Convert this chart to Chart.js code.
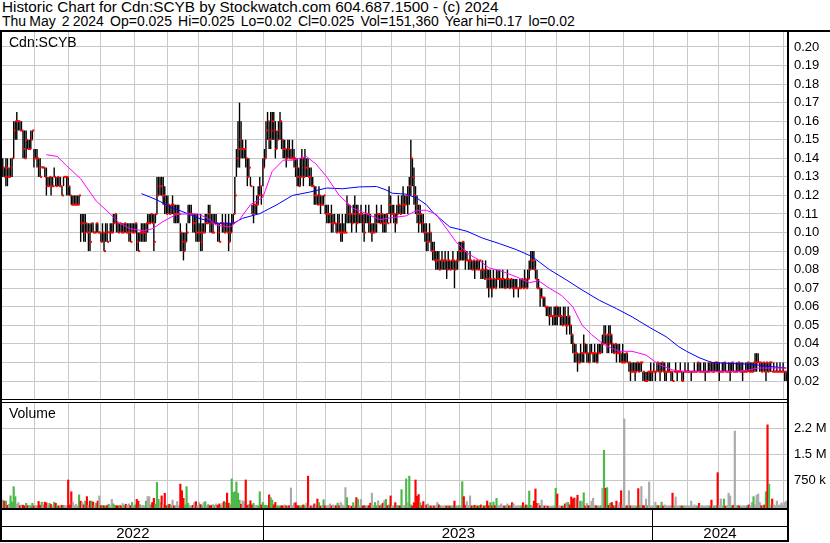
<!DOCTYPE html>
<html>
<head>
<meta charset="utf-8">
<title>Cdn:SCYB</title>
<script src="https://cdn.jsdelivr.net/npm/chart.js@4.4.1/dist/chart.umd.min.js"></script>
<style>
  body { margin: 0; background: #fff; }
  #wrap { position: relative; width: 830px; height: 543px; overflow: hidden; font-family: Arial, "Liberation Sans", sans-serif; color: #000; }
  .abs { position: absolute; }
  .ln { position: absolute; background: #000; z-index: 2; }
  .head { left: 2px; white-space: pre; line-height: 14px; }
  #h1 { top: 0; font-size: 15.3px; }
  #h2 { top: 14px; font-size: 14px; word-spacing: -0.8px; }
  .tag { font-size: 14px; z-index: 2; }
</style>
</head>
<body>
<div id="wrap">
  <div id="h1" class="abs head">Historic Chart for Cdn:SCYB by Stockwatch.com 604.687.1500 - (c) 2024</div>
  <div id="h2" class="abs head">Thu May  2 2024  Op=0.025  Hi=0.025  Lo=0.02  Cl=0.025  Vol=151,360  Year hi=0.17  lo=0.02</div>
  <canvas id="price" class="abs" width="830" height="367" style="left:0;top:32px"></canvas>
  <canvas id="volume" class="abs" width="830" height="140" style="left:0;top:403px"></canvas>
  <div class="abs tag" style="left:9px;top:34px">Cdn:SCYB</div>
  <div class="abs tag" style="left:9px;top:405px">Volume</div>
  <div class="ln" style="left:0;top:30px;width:830px;height:2px"></div>
  <div class="ln" style="left:0;top:30px;width:2px;height:512px"></div>
  <div class="ln" style="left:787px;top:30px;width:2px;height:512px"></div>
  <div class="ln" style="left:0;top:399px;width:789px;height:1px"></div>
  <div class="ln" style="left:0;top:402px;width:789px;height:1px"></div>
  <div class="ln" style="left:0;top:508px;width:789px;height:2px"></div>
  <div class="ln" style="left:0;top:526px;width:789px;height:1px"></div>
  <div class="ln" style="left:0;top:540px;width:789px;height:2px"></div>
</div>
<script>
// daily bars, prices in thousandths of a dollar (mils), May 2 2022 .. May 2 2024
const highs = [
  140,135,140,140,135,140,140,160,160,165,160,160,160,155,155,155,150,150,155,155,145,145,145,140,
  140,135,135,135,135,130,130,130,130,135,130,130,130,130,125,130,130,130,130,125,120,120,120,120,
  120,120,110,110,110,110,105,105,105,105,105,100,105,105,100,100,105,100,105,105,100,105,105,110,
  110,110,105,105,105,105,105,105,105,105,105,105,105,105,105,100,100,105,105,105,105,110,110,110,
  110,110,110,130,130,130,130,130,125,120,120,115,115,120,115,115,115,115,105,100,100,100,105,115,
  115,115,110,110,110,110,105,110,105,105,110,110,115,115,110,110,110,110,105,105,105,110,105,110,
  105,110,105,110,110,130,145,160,170,160,150,145,150,140,140,130,115,125,115,120,125,130,125,140,
  145,160,165,160,165,165,165,160,155,160,165,160,150,150,145,150,150,145,150,145,140,140,135,140,
  145,140,145,140,140,135,135,130,125,125,120,125,120,120,120,115,115,115,110,115,110,110,105,110,
  110,105,110,105,110,120,115,115,110,115,120,115,115,110,115,110,110,115,110,115,110,105,105,110,
  115,110,110,115,110,110,110,110,125,120,115,115,110,115,120,115,120,125,120,120,125,130,150,140,
  135,125,120,115,115,110,110,105,105,100,105,100,95,95,90,90,90,85,90,85,90,85,90,85,
  85,90,85,85,90,95,95,95,95,90,90,85,90,85,85,85,85,85,85,80,85,80,85,80,
  80,80,75,80,75,80,80,80,75,80,75,75,80,75,75,75,75,75,75,70,75,75,75,80,
  75,80,85,90,90,90,85,80,75,70,70,65,65,60,60,60,60,55,60,60,60,60,60,55,
  60,60,55,60,55,50,45,40,40,35,35,40,35,45,40,40,35,40,40,35,40,35,40,40,
  40,45,50,50,45,50,50,45,40,40,40,40,40,35,40,35,35,35,30,30,30,30,30,30,
  30,30,30,25,25,25,25,25,30,25,30,25,30,30,30,30,30,30,25,30,30,25,25,25,
  30,25,25,30,25,25,30,25,30,25,25,25,30,25,30,30,30,25,30,30,25,30,30,30,
  30,30,30,30,30,25,30,30,30,25,30,30,30,30,25,30,30,30,30,30,25,30,30,30,
  30,30,30,35,35,35,30,30,30,30,30,30,30,30,25,30,25,30,25,30,25,30,25,25
];
const lows = [
  130,130,125,125,130,130,130,140,150,150,155,155,155,140,140,140,145,145,145,150,135,140,135,130,
  130,135,135,130,120,125,125,120,125,130,125,125,125,125,120,125,130,120,120,120,115,115,115,115,
  115,115,95,100,95,95,100,90,90,100,100,100,100,100,100,95,95,90,95,95,100,95,100,100,
  105,100,100,100,100,100,100,100,100,95,95,100,100,100,90,90,95,95,95,95,95,100,105,105,
  105,90,105,110,120,120,120,115,110,110,110,110,110,110,105,105,105,105,90,90,85,90,95,105,
  105,110,100,100,95,95,95,90,90,100,100,105,105,100,100,100,105,105,95,95,105,100,100,100,
  100,90,95,100,105,110,130,135,135,140,140,140,135,125,130,125,110,105,110,110,115,120,115,125,
  135,140,150,145,145,150,150,140,145,150,150,145,140,140,135,140,140,140,140,135,130,125,125,125,
  130,125,130,130,130,125,125,125,115,115,115,115,110,115,115,110,105,105,105,100,100,105,100,100,
  100,95,95,100,100,105,105,105,100,105,105,100,105,105,105,100,95,105,105,100,100,95,100,100,
  100,105,105,105,100,100,100,105,110,105,110,105,100,105,110,110,110,110,110,115,110,115,120,125,
  115,110,105,100,105,100,100,95,90,90,95,90,85,85,80,80,80,80,80,80,80,75,80,80,
  80,80,70,80,80,85,85,85,85,80,85,80,80,80,80,75,80,80,80,75,75,75,75,70,
  65,70,65,70,70,70,75,70,70,70,70,70,70,70,70,70,65,70,70,65,70,70,70,70,
  70,70,75,80,80,80,75,70,70,60,65,60,60,55,55,50,55,50,50,50,50,55,50,50,
  50,50,45,50,45,40,35,30,30,25,30,30,30,30,35,30,30,30,35,30,30,30,30,35,
  35,35,40,40,35,35,40,35,35,35,30,35,30,30,30,30,30,30,25,20,25,25,20,25,
  25,25,25,20,20,20,20,20,20,20,25,20,25,25,20,25,25,20,20,25,25,20,20,25,
  25,20,25,25,20,20,25,25,25,25,20,25,25,25,25,25,25,25,25,20,25,25,25,25,
  25,25,25,25,20,25,25,25,25,25,25,20,25,25,25,25,25,25,25,20,25,25,25,25,
  25,25,25,25,25,30,25,25,25,25,20,25,25,25,25,25,25,25,25,25,25,25,20,20
];
const closes = [
  135,130,135,130,130,135,140,155,160,160,160,155,155,145,140,150,145,145,150,155,140,140,140,135,
  130,135,135,130,125,125,130,125,125,130,125,130,125,125,120,130,130,130,125,120,115,115,115,115,
  115,120,105,105,100,105,100,100,95,105,100,100,105,100,100,95,100,90,100,95,100,100,100,105,
  110,105,100,105,100,100,105,100,100,100,95,100,100,105,95,90,100,100,100,100,105,105,105,110,
  105,95,110,120,125,125,120,120,115,110,115,110,115,115,110,110,110,110,100,95,90,95,100,110,
  110,110,105,105,100,100,100,95,100,100,105,105,110,105,100,100,105,105,100,95,105,105,100,105,
  100,95,100,105,110,120,140,145,150,145,145,145,140,130,135,125,110,115,115,115,120,125,120,135,
  140,155,160,150,155,160,155,145,150,155,160,150,145,145,140,145,140,140,140,140,135,130,125,130,
  140,130,135,135,130,130,125,125,120,120,115,120,115,115,120,110,110,110,110,105,105,105,100,105,
  100,100,100,100,100,115,110,110,105,110,110,105,110,110,110,105,100,110,110,105,100,100,100,105,
  110,110,105,110,105,105,110,105,115,110,110,110,105,110,115,110,115,115,115,120,120,125,140,130,
  120,115,110,105,110,105,100,100,95,95,100,90,90,85,85,85,80,85,85,85,85,80,85,80,
  85,85,80,85,85,90,90,95,90,85,85,85,85,80,85,80,85,80,85,80,80,75,80,75,
  70,75,70,75,70,75,75,75,75,75,70,75,75,70,75,70,70,70,70,70,70,75,70,75,
  70,75,80,85,85,80,75,70,70,65,65,65,60,60,55,55,55,55,55,60,55,55,55,50,
  55,50,50,55,50,45,40,35,35,30,30,35,35,40,35,35,30,35,35,35,35,30,35,35,
  40,40,45,40,45,40,45,40,35,40,35,35,35,30,30,30,35,30,30,25,25,25,25,30,
  25,30,30,25,20,20,25,25,25,25,25,25,30,25,25,30,25,25,25,25,25,25,20,25,
  25,25,25,25,20,25,25,25,25,25,25,25,25,25,30,25,25,25,25,25,25,25,30,25,
  25,30,30,25,25,25,25,30,25,25,25,25,30,25,25,25,30,25,25,25,25,25,30,25,
  25,25,30,30,30,30,30,25,30,25,30,25,30,30,25,25,25,25,25,25,25,25,25,25
];
// daily volume, thousands of shares
const volumes = [
  183,150,150,30,60,300,120,567,280,60,106,20,40,30,15,85,20,30,10,85,10,25,15,140,
  30,120,40,120,100,20,85,50,15,120,85,20,10,25,30,30,15,20,759,40,420,120,20,60,
  15,330,150,120,40,150,280,30,150,150,120,20,90,150,300,20,30,15,10,25,60,15,200,70,
  20,20,10,30,15,80,20,60,30,70,20,110,15,40,200,150,50,20,30,15,150,280,280,40,
  110,230,60,690,200,110,300,40,375,20,40,60,20,180,15,30,135,20,640,450,230,40,567,90,
  20,10,30,110,135,20,110,50,20,110,135,20,50,15,30,50,20,70,30,70,15,90,135,110,
  380,90,40,790,400,420,700,380,180,60,160,135,760,30,50,160,40,85,20,30,15,420,40,110,
  30,30,20,330,250,180,40,110,20,10,10,20,10,40,15,10,20,530,30,90,105,20,15,10,
  20,40,15,90,870,20,10,15,70,30,210,105,10,20,190,15,10,20,70,15,40,15,20,90,
  15,110,40,15,540,250,20,10,5,105,10,250,200,20,200,10,20,10,15,20,90,380,20,110,
  20,160,15,40,90,160,200,20,40,300,10,20,105,20,20,15,480,10,30,790,105,870,40,10,
  105,760,290,340,105,20,135,15,40,70,15,10,20,10,15,110,40,15,10,10,20,10,15,10,
  10,20,150,15,10,20,10,710,280,30,135,20,300,15,10,30,15,10,20,40,15,10,20,150,
  20,105,15,120,20,230,15,30,70,15,10,20,70,15,20,105,70,10,15,20,10,15,105,20,
  40,20,440,30,10,150,500,85,85,20,180,15,10,20,5,5,5,10,15,520,355,20,10,5,
  15,70,110,110,40,270,210,240,210,320,150,150,130,390,10,85,20,10,150,230,30,15,10,10,
  20,520,1620,520,540,30,85,110,20,10,150,30,110,450,40,2520,10,20,450,15,10,20,10,10,
  510,30,570,20,15,210,20,700,15,10,20,120,20,20,15,120,10,40,15,10,20,15,380,15,
  270,10,15,20,10,15,10,20,10,15,150,10,40,15,10,85,15,20,10,10,15,20,10,180,
  15,10,30,970,20,210,15,210,10,20,380,300,15,30,2170,15,30,10,10,10,15,10,20,40,
  20,110,280,40,320,355,110,20,10,40,420,2350,640,30,210,40,20,150,30,40,100,20,110,151
];
// moving averages: bar index and value (mils)
const pinkIdx = [28,35,41,50,60,69,75,82,90,96,103,112,118,125,131,137,146,152,159,167,173,180,186,195,201,208,216,225,234,242,250,259,266,272,278,285,291,298,306,312,321,330,338,344,351,359,366,372,378,387,396,404,413,421,430,439,453,471,479,485,494,503];
const pinkMA = [142,141,136,129,117,110,105,102,101,102,106,110,110,110,108,104,103,107,115,119,133,139,139,141,137,130,120,113,110,107,108,109,112,112,110,102,95,89,85,81,79,76,73,74,70,66,60,50,45,39,36,36,34,29,26,25,25,25,26,27,27,27];
const blueIdx = [89,99,107,118,126,137,148,154,165,176,186,197,208,218,229,240,246,250,259,266,272,276,287,298,308,319,330,340,351,362,372,383,394,404,415,426,434,439,447,455,468,481,490,503];
const blueMA = [121,117.6,114,110.4,107.7,105,105,107.7,110.2,115,120,121.8,124,123.6,124.6,124.8,123,121.2,120.7,118.5,115,111,103,100.7,97,94,90.7,87,80,74.4,69,63.5,59,54.6,49,43.8,38.5,36,32.6,30,29.4,29,28,27];

const priceTicks = [0.20,0.19,0.18,0.17,0.16,0.15,0.14,0.13,0.12,0.11,0.10,0.09,0.08,0.07,0.06,0.05,0.04,0.03,0.02];
const priceTickLabels = ['0.20','0.19','0.18','0.17','0.16','0.15','0.14','0.13','0.12','0.11','0.10','0.09','0.08','0.07','0.06','0.05','0.04','0.03','0.02'];
const volTicks = [750, 1500, 2250];
const volTickLabels = ['750 k', '1.5 M', '2.2 M'];

// TSX trading calendar for the bars
const holidays = ['2022-05-23','2022-07-01','2022-08-01','2022-09-05','2022-10-10','2022-12-26','2022-12-27',
  '2023-01-02','2023-02-20','2023-04-07','2023-05-22','2023-07-03','2023-08-07','2023-09-04','2023-10-09','2023-12-25','2023-12-26',
  '2024-01-01','2024-02-19','2024-03-29'];
const days = [];
for (let d = new Date(Date.UTC(2022, 4, 2)); days.length < closes.length; d.setUTCDate(d.getUTCDate() + 1)) {
  const wd = d.getUTCDay();
  const s = d.toISOString().slice(0, 10);
  if (wd === 0 || wd === 6 || holidays.includes(s)) continue;
  days.push(s);
}
const monthStarts = [];
const years = [];
days.forEach((s, i) => {
  if (i > 0 && s.slice(0, 7) !== days[i - 1].slice(0, 7)) monthStarts.push(i);
  const y = s.slice(0, 4);
  if (!years.length || years[years.length - 1].year !== y) years.push({ year: y, from: i, to: i });
  else years[years.length - 1].to = i;
});

Chart.defaults.font.family = 'Arial, "Liberation Sans", sans-serif';
Chart.defaults.font.size = 13;
Chart.defaults.color = '#000';

const GRID = '#c8c8c8';
const N = closes.length;

// no extra room around the plot: the frame is drawn by the page
function noPad(s) {
  s.paddingTop = 0; s.paddingBottom = 0; s.paddingLeft = 0; s.paddingRight = 0;
}

function xAxis() {
  return {
    type: 'linear', min: -0.5, max: N - 0.5, offset: false,
    afterBuildTicks: s => { s.ticks = monthStarts.map(i => ({ value: i - 0.5 })); },
    afterFit: s => { s.height = 0; noPad(s); },
    ticks: { display: false },
    grid: { color: GRID, lineWidth: 1, drawTicks: false, offset: false },
    border: { display: false }
  };
}

function yAxis(min, max, ticks, labels) {
  return {
    position: 'right', min, max,
    afterBuildTicks: s => { s.ticks = ticks.map(v => ({ value: v })); },
    afterFit: s => { s.width = 43; noPad(s); },
    ticks: { padding: 7, autoSkip: false, callback: (v, i) => labels[i] },
    grid: { color: GRID, lineWidth: 1, drawTicks: false },
    border: { display: false }
  };
}

const common = {
  responsive: false,
  animation: false,
  events: [],
  plugins: { legend: { display: false }, tooltip: { enabled: false } }
};

new Chart(document.getElementById('price'), {
  type: 'bar',
  data: {
    datasets: [
      {
        type: 'line', order: 0,
        data: pinkIdx.map((x, k) => ({ x, y: pinkMA[k] / 1000 })),
        borderColor: '#ff00ff', borderWidth: 1, pointRadius: 0, tension: 0
      },
      {
        type: 'line', order: 1,
        data: blueIdx.map((x, k) => ({ x, y: blueMA[k] / 1000 })),
        borderColor: '#0000ff', borderWidth: 1, pointRadius: 0, tension: 0
      },
      {
        type: 'line', order: 2, showLine: false,
        data: closes.map((c, i) => ({ x: i + 0.6, y: c / 1000 })),
        pointStyle: 'line', pointRadius: 1, borderColor: '#ff0000', borderWidth: 2
      },
      {
        type: 'bar', order: 3,
        data: highs.map((h, i) => ({ x: i, y: [lows[i] / 1000, h / 1000] })),
        backgroundColor: '#000', barThickness: 1.4, inflateAmount: 0, minBarLength: 1, grouped: false
      }
    ]
  },
  options: {
    ...common,
    layout: { autoPadding: false, padding: { left: 2, right: 0, top: 0, bottom: 0 } },
    scales: {
      x: xAxis(),
      y: yAxis(0.0103, 0.20808, priceTicks, priceTickLabels)
    }
  }
});

const VOL_MIN = -49;
const volColors = closes.map((c, i) => i === 0 || c === closes[i - 1] ? '#aaaaaa' : (c > closes[i - 1] ? '#4cb848' : '#ff0000'));

const yearStrip = {
  id: 'yearStrip',
  afterDraw(chart) {
    const { ctx, chartArea } = chart;
    const x = chart.scales.x;
    ctx.save();
    ctx.fillStyle = '#000';
    ctx.font = '15px Arial, "Liberation Sans", sans-serif';
    ctx.textAlign = 'center';
    ctx.textBaseline = 'middle';
    years.forEach(({ year, from, to }) => {
      const a = x.getPixelForValue(from - 0.5);
      const b = x.getPixelForValue(to + 0.5);
      if (from > 0) ctx.fillRect(Math.round(a) - 1, chartArea.bottom, 1, 32);
      ctx.fillText(year, (Math.max(a, chartArea.left) + Math.min(b, chartArea.right)) / 2, chartArea.bottom + 26);
    });
    ctx.restore();
  }
};

new Chart(document.getElementById('volume'), {
  type: 'bar',
  data: {
    datasets: [{
      data: volumes.map((v, i) => ({ x: i, y: [VOL_MIN, v] })),
      backgroundColor: volColors, barThickness: 1.5, grouped: false
    }]
  },
  options: {
    ...common,
    layout: { autoPadding: false, padding: { left: 2, right: 0, top: 0, bottom: 35 } },
    scales: {
      x: xAxis(),
      y: yAxis(VOL_MIN, 2980, volTicks, volTickLabels)
    }
  },
  plugins: [yearStrip]
});
</script>
</body>
</html>
